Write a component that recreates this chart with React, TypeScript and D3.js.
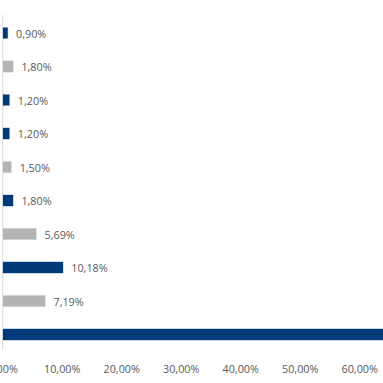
import React from "react";
import * as d3 from "d3";

const categories = ["C1", "C2", "C3", "C4", "C5", "C6", "C7", "C8", "C9", "C10"];
const values = [0.9, 1.8, 1.2, 1.2, 1.5, 1.8, 5.69, 10.18, 7.19, 64.5];
const groups = ["a", "b", "a", "a", "b", "a", "b", "a", "b", "a"];
const xTicks = [0, 10, 20, 30, 40, 50, 60];

const groupColors: Record<string, string> = { a: "#003A78", b: "#B4B4B4" };

const W = 383;
const H = 383;

const fmt = (v: number) => v.toFixed(2).replace(".", ",") + "%";

export default function App() {
  const x = d3.scaleLinear().domain([0, 60]).range([2.7, 359.7]);
  const y = d3
    .scaleBand<string>()
    .domain(categories)
    .range([16.25, 351.25])
    .paddingInner(0.65)
    .paddingOuter(0.325);

  const font = "'Open Sans', 'Liberation Sans', sans-serif";

  return (
    <svg
      width={W}
      height={H}
      style={{ position: "absolute", left: 0, top: 0, background: "#fff" }}
    >
      <line x1={x(0)} x2={x(0)} y1={15} y2={350} stroke="#D9D9D9" strokeWidth={1} />
      {categories.map((c, i) => {
        const v = values[i];
        const y0 = y(c)!;
        const bw = y.bandwidth();
        return (
          <g key={c}>
            <rect
              x={x(0)}
              y={y0}
              width={x(v) - x(0)}
              height={bw}
              fill={groupColors[groups[i]]}
              stroke="#E6ECF2"
              strokeWidth={0.6}
            />
            <text
              x={x(v) + 8}
              y={y0 + bw / 2}
              dominantBaseline="central"
              fontFamily={font}
              fontSize={10.8}
              fill="#595959"
            >
              {fmt(v)}
            </text>
          </g>
        );
      })}
      {xTicks.map((t) => (
        <text
          key={t}
          x={x(t)}
          y={368}
          textAnchor="middle"
          dominantBaseline="central"
          fontFamily={font}
          fontSize={10.8}
          fill="#595959"
        >
          {fmt(t)}
        </text>
      ))}
    </svg>
  );
}
